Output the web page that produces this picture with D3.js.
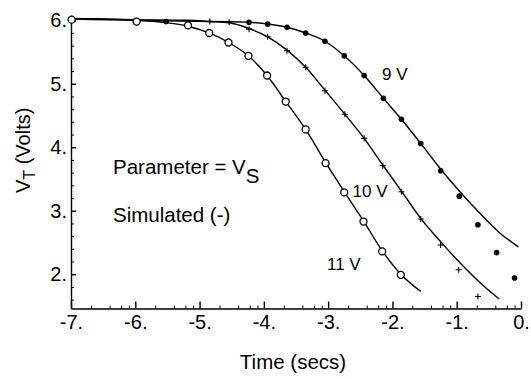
<!DOCTYPE html>
<html><head>
<meta charset="utf-8">
<title>VT vs time</title>
<script src="https://d3js.org/d3.v7.min.js"></script>
<style>
  body { margin: 0; background: #fff; }
  svg text {
    font-family: Arial, "Liberation Sans", Helvetica, sans-serif;
    fill: #000;
  }
  .axis path, .axis line { stroke: #000; stroke-width: 1.4; }
  .minor path { stroke: none; }
  .minor line { stroke: #000; stroke-width: 1; }
  .axis text { font-size: 20px; }
  .sim { fill: none; stroke: #000; stroke-width: 1.4; }
</style>
</head>
<body>
<svg id="chart" width="531" height="379"></svg>

<script>
// tick labels
const xTicks = [-7, -6, -5, -4, -3, -2, -1, 0];
const yTicks = [2, 3, 4, 5, 6];
// odd minor tick spacing on the time axis
const xMinorOffsets = [0.31, 0.6, 0.78, 0.9];
const yMinorTicks = [1.6, 1.8, 2.2, 2.4, 2.6, 2.8, 3.2, 3.4, 3.6, 3.8, 4.2, 4.4, 4.6, 4.8, 5.2, 5.4, 5.6, 5.8];

// measured points (markers)
const t11 = [-6.99, -5.98, -5.18, -4.85, -4.55, -4.24, -3.95, -3.66, -3.35, -3.04, -2.75, -2.45, -2.16, -1.87];
const v11 = [6.01, 5.98, 5.92, 5.80, 5.65, 5.44, 5.13, 4.72, 4.28, 3.75, 3.29, 2.83, 2.36, 1.99];

const t10 = [-4.84, -4.54, -4.23, -3.94, -3.64, -3.35, -3.05, -2.74, -2.44, -2.15, -1.86, -1.56, -1.25, -0.97, -0.67];
const v10 = [5.98, 5.97, 5.86, 5.74, 5.52, 5.26, 4.89, 4.52, 4.14, 3.71, 3.30, 2.87, 2.46, 2.07, 1.65];

const t9 = [-5.52, -4.23, -3.94, -3.64, -3.35, -3.05, -2.75, -2.44, -2.14, -1.86, -1.56, -1.25, -0.96, -0.67, -0.38, -0.10];
const v9 = [5.98, 5.97, 5.94, 5.89, 5.80, 5.67, 5.44, 5.13, 4.77, 4.44, 4.06, 3.63, 3.23, 2.78, 2.34, 1.94];

// simulated curves (solid lines)
const simT11 = [-7, -6, -5.5, -5.2, -4.85, -4.55, -4.24, -3.95, -3.66, -3.35, -3.04, -2.75, -2.45, -2.16, -1.87, -1.56];
const simV11 = [6.03, 6.0, 5.96, 5.91, 5.80, 5.65, 5.44, 5.13, 4.72, 4.28, 3.76, 3.30, 2.84, 2.37, 2.0, 1.73];

const simT10 = [-7, -6, -5.2, -4.84, -4.54, -4.23, -3.94, -3.64, -3.35, -3.05, -2.74, -2.44, -2.15, -1.86, -1.56, -1.23, -0.95, -0.64, -0.34];
const simV10 = [6.03, 6.01, 6.0, 5.98, 5.96, 5.87, 5.74, 5.53, 5.26, 4.90, 4.52, 4.14, 3.72, 3.31, 2.88, 2.49, 2.18, 1.87, 1.61];

const simT9 = [-7, -5.52, -4.23, -3.94, -3.64, -3.35, -3.05, -2.75, -2.44, -2.14, -1.86, -1.56, -1.26, -0.95, -0.64, -0.33, -0.04];
const simV9 = [6.02, 5.99, 5.97, 5.94, 5.89, 5.80, 5.67, 5.44, 5.13, 4.77, 4.44, 4.06, 3.67, 3.30, 2.96, 2.65, 2.43];

let svg = d3.select("svg#chart");
let margin = { top: 15.2, right: 10, bottom: 70.5, left: 71 };
let width = +svg.attr("width");
let height = +svg.attr("height");

// scales
const xScale = d3.scaleLinear().domain([-7, 0]).range([margin.left, 521]);
const yScale = d3.scaleLinear().domain([1.46, 6.08]).range([height - margin.bottom, margin.top]);
const bottomY = height - margin.bottom;

// x axis, ticks point up into the plot
let xMinor = [];
xTicks.slice(0, -1).forEach(k => xMinorOffsets.forEach(o => xMinor.push(k + o)));

svg.append("g").attr("class", "x axis minor")
  .attr("transform", "translate(0," + bottomY + ")")
  .call(d3.axisBottom(xScale).tickValues(xMinor).tickSize(-3).tickFormat(""));

svg.append("g").attr("class", "x axis")
  .attr("transform", "translate(0," + bottomY + ")")
  .call(d3.axisBottom(xScale).tickValues(xTicks).tickSizeInner(-7).tickSizeOuter(0)
        .tickPadding(6).tickFormat(d => d + "."));

// y axis, ticks point right
svg.append("g").attr("class", "y axis minor")
  .attr("transform", "translate(" + margin.left + ",0)")
  .call(d3.axisLeft(yScale).tickValues(yMinorTicks).tickSize(-3).tickFormat(""));

svg.append("g").attr("class", "y axis")
  .attr("transform", "translate(" + margin.left + ",0)")
  .call(d3.axisLeft(yScale).tickValues(yTicks).tickSizeInner(-5).tickSizeOuter(0)
        .tickPadding(4).tickFormat(d => d + "."));

// curves
const line = d3.line()
  .x(d => xScale(d[0]))
  .y(d => yScale(d[1]))
  .curve(d3.curveMonotoneX);

[[simT11, simV11], [simT10, simV10], [simT9, simV9]].forEach(s => {
  svg.append("path").attr("class", "sim")
    .attr("d", line(d3.zip(s[0], s[1])));
});

// markers
let marks = svg.append("g");

d3.zip(t11, v11).forEach(d => {
  marks.append("circle")
    .attr("cx", xScale(d[0])).attr("cy", yScale(d[1])).attr("r", 3.5)
    .style("fill", "#fff").style("stroke", "#000").style("stroke-width", 1.3);
});

d3.zip(t10, v10).forEach(d => {
  let cx = xScale(d[0]), cy = yScale(d[1]);
  marks.append("path")
    .attr("d", "M" + (cx - 3) + "," + cy + "H" + (cx + 3) + "M" + cx + "," + (cy - 3) + "V" + (cy + 3))
    .style("stroke", "#000").style("stroke-width", 1.1);
});

d3.zip(t9, v9).forEach(d => {
  marks.append("circle")
    .attr("cx", xScale(d[0])).attr("cy", yScale(d[1])).attr("r", 2.8)
    .style("fill", "#000");
});

// axis titles
svg.append("text")
  .attr("x", 293).attr("y", 369)
  .attr("text-anchor", "middle")
  .style("font-size", "20.5px")
  .text("Time (secs)");

let ylab = svg.append("text")
  .attr("transform", "translate(30,193) rotate(-90)")
  .style("font-size", "20px");
ylab.append("tspan").text("V");
ylab.append("tspan").attr("dy", 5).style("font-size", "16px").text("T");
ylab.append("tspan").attr("dy", -5).text(" (Volts)");

// annotations
let param = svg.append("text").attr("x", 113).attr("y", 174).style("font-size", "20.5px");
param.append("tspan").text("Parameter = V");
param.append("tspan").attr("dy", 9).text("S");

svg.append("text").attr("x", 113).attr("y", 222).style("font-size", "20.5px").text("Simulated (-)");

const curveLabels = ["9 V", "10 V", "11 V"];
const labelX = [382, 352.5, 327];
const labelY = [79.5, 196.7, 270];
curveLabels.forEach((d, i) => {
  svg.append("text").attr("x", labelX[i]).attr("y", labelY[i])
    .style("font-size", "17px").text(d);
});
</script>
</body>
</html>
